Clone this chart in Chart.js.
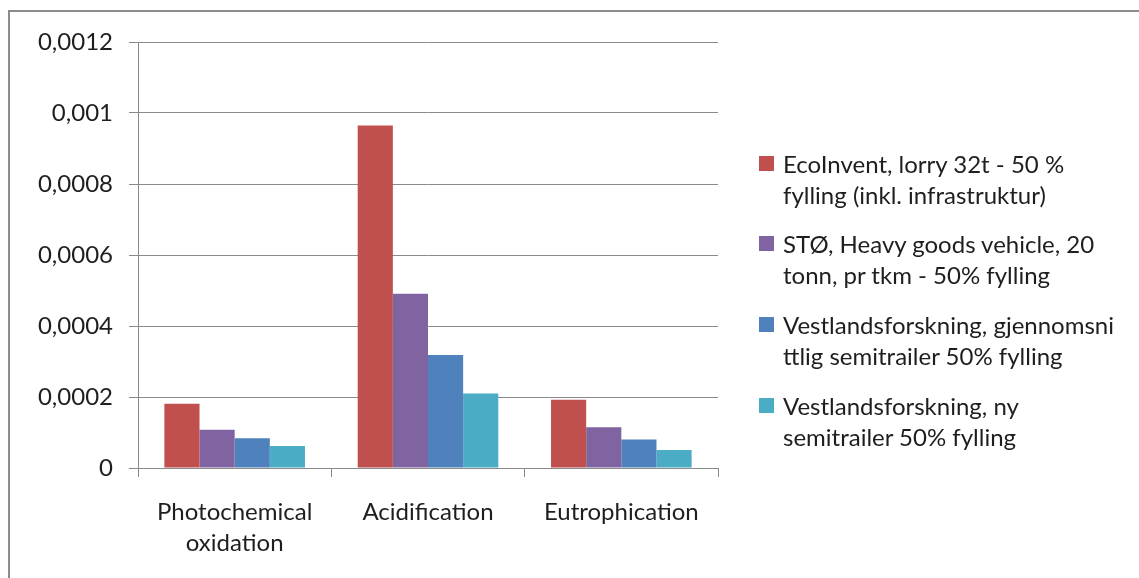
<!DOCTYPE html>
<html>
<head>
<meta charset="utf-8">
<script src="https://cdn.jsdelivr.net/npm/chart.js@4/dist/chart.umd.min.js"></script>
<style>
  html, body { margin: 0; padding: 0; background: #fff; overflow: hidden; }
  #wrap { position: relative; width: 1139px; height: 578px; overflow: hidden; }
  #frame { position: absolute; left: 8px; top: 10px; width: 2000px; height: 2000px;
           border: 2px solid #8c8c8c; box-sizing: border-box; }
  canvas { position: absolute; left: 0; top: 0; }
  #legend { position: absolute; left: 759px; top: 147.5px; font-family: Lato, sans-serif;
            font-size: 24px; line-height: 31px; color: #1e1e1e; }
  .entry { position: relative; padding-left: 24px; margin-bottom: 18.7px; white-space: nowrap; }
  .swatch { position: absolute; left: 0; top: 8px; width: 15px; height: 15px; }
</style>
</head>
<body>
<div id="wrap">
  <div id="frame"></div>
  <canvas id="c" width="1139" height="578"></canvas>
  <div id="legend"></div>
</div>
<script>
// Impact categories on the x axis
const categories = [['Photochemical', 'oxidation'], 'Acidification', 'Eutrophication'];

// Emissions per tkm for each data source
const ecoinvent   = [0.000181, 0.000965, 0.000192];
const stoHgv      = [0.000108, 0.000491, 0.000115];
const vestAverage = [0.000084, 0.000318, 0.000080];
const vestNew     = [0.000062, 0.000210, 0.000051];

// Series names, wrapped as they appear in the legend
const seriesNames = [
  ['EcoInvent, lorry 32t - 50 %', 'fylling (inkl. infrastruktur)'],
  ['STØ, Heavy goods vehicle, 20', 'tonn, pr tkm - 50% fylling'],
  ['Vestlandsforskning, gjennomsni', 'ttlig semitrailer 50% fylling'],
  ['Vestlandsforskning, ny', 'semitrailer 50% fylling']
];
const seriesColors = ['#C0504D', '#8064A2', '#4F81BD', '#4BACC6'];

// Y axis tick labels (decimal comma)
const yTickLabels = ['0', '0,0002', '0,0004', '0,0006', '0,0008', '0,001', '0,0012'];

const seriesValues = [ecoinvent, stoHgv, vestAverage, vestNew];
const datasets = seriesValues.map((vals, i) => ({
  label: seriesNames[i].join(' '),
  data: vals,
  backgroundColor: seriesColors[i],
  borderWidth: 0,
  barPercentage: 1.0,
  categoryPercentage: 4 / 5.5
}));

const axisColor = '#8a8a8a';
const textColor = '#1e1e1e';
const font = { family: 'Lato, sans-serif', size: 24 };

new Chart(document.getElementById('c'), {
  type: 'bar',
  data: { labels: categories, datasets },
  options: {
    responsive: false,
    animation: false,
    devicePixelRatio: 1,
    layout: { padding: { left: 0, right: 421, top: 42, bottom: 0 } },
    plugins: { legend: { display: false }, tooltip: { enabled: false } },
    scales: {
      y: {
        min: 0, max: 0.0012,
        ticks: {
          stepSize: 0.0002,
          padding: 16,
          color: textColor,
          font,
          callback: (v, i) => yTickLabels[i]
        },
        grid: { color: axisColor, lineWidth: 1, tickLength: 9, drawTicks: true },
        border: { color: axisColor, width: 1 },
        afterFit: s => { s.width = 138; }
      },
      x: {
        ticks: { color: textColor, font: { ...font, lineHeight: 31 / 24 }, padding: 20 },
        grid: { offset: true, drawOnChartArea: false, color: axisColor, tickLength: 9 },
        border: { color: axisColor, width: 1 },
        afterFit: s => { s.height = 110; }
      }
    }
  }
});

// Legend drawn from the series names and colours
const legend = document.getElementById('legend');
seriesNames.forEach((lines, i) => {
  const e = document.createElement('div');
  e.className = 'entry';
  const sw = document.createElement('span');
  sw.className = 'swatch';
  sw.style.background = seriesColors[i];
  e.appendChild(sw);
  lines.forEach((t, j) => {
    if (j) e.appendChild(document.createElement('br'));
    e.appendChild(document.createTextNode(t));
  });
  legend.appendChild(e);
});
</script>
</body>
</html>
